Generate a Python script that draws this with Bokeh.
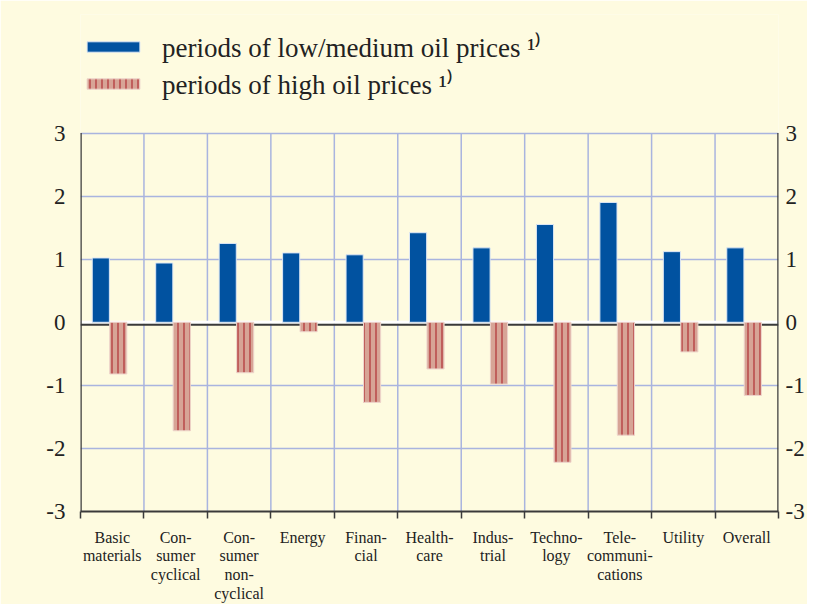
from bokeh.plotting import figure
from bokeh.models import (Range1d, FixedTicker, LinearAxis, Span, Legend, LegendItem,
                          ColumnDataSource, PrintfTickFormatter)
from bokeh.transform import dodge
from bokeh.embed import file_html
from bokeh.resources import INLINE

# ---- data ----
categories = ["Basic\nmaterials", "Con-\nsumer\ncyclical", "Con-\nsumer\nnon-\ncyclical",
              "Energy", "Finan-\ncial", "Health-\ncare", "Indus-\ntrial", "Techno-\nlogy",
              "Tele-\ncommuni-\ncations", "Utility", "Overall"]
low_medium = [1.02, 0.94, 1.25, 1.10, 1.07, 1.42, 1.18, 1.55, 1.90, 1.12, 1.18]
high = [-0.82, -1.72, -0.80, -0.15, -1.27, -0.74, -0.98, -2.22, -1.79, -0.47, -1.16]
y_ticks = [-3, -2, -1, 0, 1, 2, 3]
series_labels = ["periods of low/medium oil prices \u00b9\u207e",
                 "periods of high oil prices \u00b9\u207e"]

BG = "#FEFBE0"
BLUE = "#0152A0"
RED_FILL = "#D7A496"
RED_LINE = "#B3393B"
GRID = "#A9B4DF"
AXIS = "#3A3A3A"
FONT = "Liberation Serif"

n = len(categories)
centers = [i + 0.5 for i in range(n)]
boundaries = list(range(n + 1))
y_lo, y_hi = y_ticks[0], y_ticks[-1]
LEGEND_ROOM = 1.88  # extra headroom in the frame for the legend

src = ColumnDataSource(dict(x=centers, low=low_medium, high=high))

p = figure(frame_width=698, frame_height=497, x_range=Range1d(0, n),
           y_range=Range1d(y_lo, y_hi + LEGEND_ROOM),
           output_backend="svg", toolbar_location=None,
           min_border_left=80, min_border_right=27, min_border_top=14, min_border_bottom=70,
           background_fill_color=BG, border_fill_color=BG, outline_line_color=None)

# grids: horizontal via grid, vertical drawn only over the data area
p.xgrid.visible = False
p.ygrid.ticker = FixedTicker(ticks=y_ticks)
p.ygrid.grid_line_color = GRID
p.ygrid.grid_line_width = 1.5
p.segment(x0=boundaries[1:-1], x1=boundaries[1:-1], y0=y_lo, y1=y_hi,
          line_color=GRID, line_width=1.5, level="underlay")

# zero line
p.add_layout(Span(location=0, dimension="width", line_color="white", line_width=3, level="underlay"))
p.add_layout(Span(location=-0.04, dimension="width", line_color=AXIS, line_width=2, level="underlay"))

# bars
r1 = p.vbar(x=dodge("x", -0.18), top="low", bottom=0, width=0.27, source=src,
            fill_color=BLUE, line_color="#DCE6F4", line_width=1)
r2 = p.vbar(x=dodge("x", 0.095), top=0, bottom="high", width=0.27, source=src,
            fill_color=RED_FILL, line_color="#EED5CC", line_width=1,
            hatch_pattern="|", hatch_color=RED_LINE, hatch_scale=6, hatch_weight=1.3)

# vertical axis lines (only over the data area)
p.segment(x0=[0, n], x1=[0, n], y0=y_lo, y1=y_hi, line_color=AXIS, line_width=2.5)

# y axes
yax = p.yaxis[0]
right = LinearAxis()
p.add_layout(right, "right")
for ax, so in ((yax, 15), (right, 7)):
    ax.ticker = FixedTicker(ticks=y_ticks)
    ax.formatter = PrintfTickFormatter(format="%d")
    ax.major_tick_out = 0
    ax.major_tick_in = 0
    ax.minor_tick_out = 0
    ax.minor_tick_in = 0
    ax.axis_line_color = None
    ax.major_label_text_font = FONT
    ax.major_label_text_font_size = "23px"
    ax.major_label_text_color = "#222222"
    ax.major_label_standoff = so

# x axis
xax = p.xaxis[0]
xax.ticker = FixedTicker(ticks=centers, minor_ticks=boundaries)
xax.major_label_overrides = {c: lab for c, lab in zip(centers, categories)}
xax.major_tick_out = 0
xax.major_tick_in = 0
xax.minor_tick_out = 7
xax.minor_tick_in = 0
xax.minor_tick_line_color = AXIS
xax.minor_tick_line_width = 1.5
xax.axis_line_color = AXIS
xax.axis_line_width = 2
xax.major_label_text_font = FONT
xax.major_label_text_font_size = "16px"
xax.major_label_text_line_height = 1.1
xax.major_label_text_color = "#222222"
xax.major_label_standoff = 10

# legend inside the headroom of the frame
legend = Legend(items=[LegendItem(label=series_labels[0], renderers=[r1]),
                       LegendItem(label=series_labels[1], renderers=[r2])],
                location=(0, 409), glyph_width=66, glyph_height=13, label_standoff=16,
                spacing=0, padding=0, margin=0, border_line_color=None,
                background_fill_alpha=0, label_text_font=FONT,
                label_text_font_size="27px", label_text_color="#222222")
p.add_layout(legend)

open("out.html", "w").write(file_html(p, INLINE))
